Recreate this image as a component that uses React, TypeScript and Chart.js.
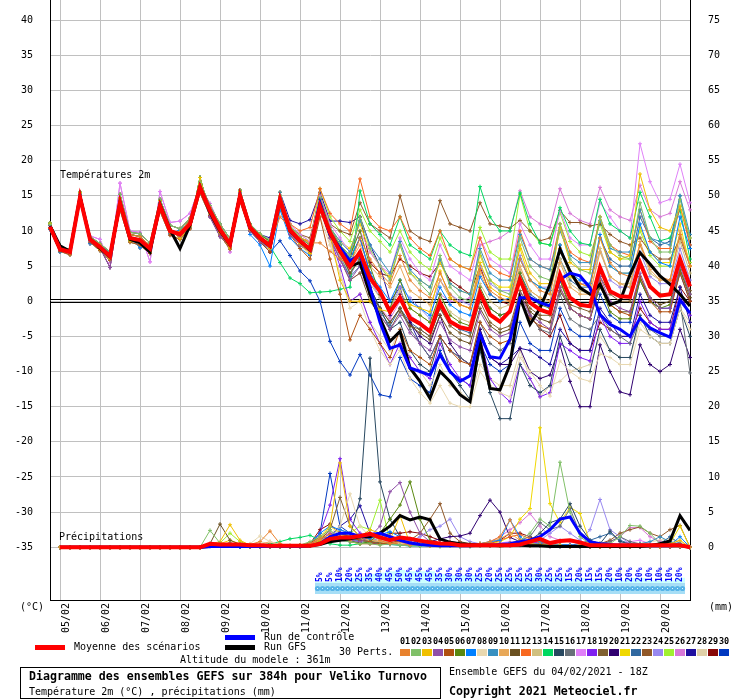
import React, { useEffect, useRef } from "react";
import { Chart, registerables } from "chart.js";

Chart.register(...registerables);

const FONT = '"DejaVu Sans Mono", monospace';

// GEFS run of 04/02/2021 18Z, one step every 6 hours
const leadHours = [
  0, 6, 12, 18, 24, 30, 36, 42, 48, 54, 60, 66, 72, 78, 84, 90, 96, 102, 108, 114,
  120, 126, 132, 138, 144, 150, 156, 162, 168, 174, 180, 186, 192, 198, 204, 210,
  216, 222, 228, 234, 240, 246, 252, 258, 264, 270, 276, 282, 288, 294, 300, 306,
  312, 318, 324, 330, 336, 342, 348, 354, 360, 366, 372, 378, 384,
];
const dayLabels = [
  "05/02", "06/02", "07/02", "08/02", "09/02", "10/02", "11/02", "12/02",
  "13/02", "14/02", "15/02", "16/02", "17/02", "18/02", "19/02", "20/02",
];
const tempTicks = [40, 35, 30, 25, 20, 15, 10, 5, 0, -5, -10, -15, -20, -25, -30, -35];
const rainTicks = [0, 5, 10, 15, 20, 25, 30, 35, 40, 45, 50, 55, 60, 65, 70, 75];

// snow probability, first value at +162h
const snowFrom = 27;
const snowPercent = [
  5, 5, 10, 20, 25, 35, 40, 45, 50, 45, 45, 45, 35, 30, 30, 30, 25, 20, 25, 25,
  25, 25, 30, 25, 25, 15, 20, 15, 15, 20, 10, 20, 20, 10, 10, 10, 20,
];

const memberColors = [
  "#e8822e", "#80c068", "#f0c000", "#9050a8", "#b05010", "#5a8810", "#0080ff", "#e8d8b0",
  "#3890c0", "#e8a858", "#6a5020", "#f86820", "#d0c080", "#00d860", "#284860", "#687078",
  "#e080f8", "#8020f0", "#806030", "#300070", "#f0d800", "#3068a0", "#905828", "#9888f0",
  "#a0f030", "#d878d8", "#2010a0", "#e0d0a8", "#880808", "#0038c0",
];

// first 20 steps, where the members still run close together
const earlyA = [10.9, 7.8, 7.3, 15.3, 9.2, 8.2, 7.0, 15.2, 9.8, 9.6, 8.3, 14.5, 10.8, 10.3, 11.8, 16.9, 13.6, 11.0, 8.9, 15.8];
const earlyB = [10.3, 7.1, 6.6, 14.4, 8.4, 7.2, 5.8, 13.0, 8.4, 8.0, 6.8, 12.8, 9.4, 8.8, 10.3, 15.4, 12.2, 9.4, 7.4, 14.2];
const earlyC = [11.1, 7.9, 6.9, 15.5, 9.0, 7.4, 6.1, 14.7, 8.6, 8.4, 7.0, 14.3, 10.3, 8.9, 10.6, 17.6, 12.5, 9.8, 7.6, 15.6];
const earlyD = [10.4, 7.5, 7.4, 14.6, 8.9, 8.0, 6.6, 13.6, 9.5, 9.2, 7.9, 13.3, 9.8, 9.9, 11.5, 15.9, 13.3, 10.6, 8.5, 14.7];
const earlyF = [10.5, 7.2, 6.8, 15.0, 9.3, 8.8, 5.5, 16.8, 10.0, 9.8, 5.6, 15.6, 11.2, 11.4, 12.5, 16.4, 13.9, 10.8, 7.0, 14.7];
const earlyG = [10.8, 7.6, 7.1, 14.9, 8.6, 7.6, 4.8, 13.9, 8.9, 8.5, 7.8, 13.5, 10.1, 9.0, 10.6, 16.6, 12.0, 9.2, 7.9, 14.8];
const earlyH = [10.2, 7.0, 7.2, 15.2, 8.2, 7.9, 6.9, 14.3, 9.2, 7.6, 8.0, 14.0, 9.6, 10.1, 11.3, 15.7, 12.7, 10.4, 8.6, 15.4];
const earlyMean = [10.6, 7.4, 7.0, 14.8, 8.8, 7.7, 6.4, 14.0, 9.0, 8.7, 7.5, 13.6, 10.0, 9.5, 11.0, 16.2, 12.9, 10.2, 8.1, 15.0];
const earlyGfs = [10.7, 7.9, 7.1, 14.9, 8.9, 7.5, 6.3, 14.1, 8.8, 8.3, 7.0, 13.8, 10.2, 7.5, 10.8, 16.3, 12.6, 10.0, 8.0, 15.1];

// 2m temperature (°C)
const t01 = [...earlyD, 10.8, 9.3, 8.2, 12.0, 10.5, 9.0, 8.3, 8.3, 7.1, 6.0, 5.2, 9.0, 6.0, 4.0, 2.5, 6.5, 3.0, 1.5, 0.5, 4.0, 1.0, -0.5, -1.0, 4.5, 1.5, 0.5, 0.0, 6.0, 3.0, 1.5, 1.0, 7.5, 4.0, 2.5, 2.0, 9.0, 5.5, 4.0, 3.5, 8.0, 5.0, 3.5, 3.0, 9.5, 5.0];
const t02 = [...earlyA, 11.0, 9.6, 8.7, 15.0, 10.8, 9.2, 8.0, 14.8, 10.5, 8.0, 6.5, 12.0, 7.5, 5.0, 3.0, 8.0, 4.0, 2.5, 1.0, 6.5, 2.0, 0.5, 0.0, 7.0, 3.0, 1.5, 1.0, 9.0, 5.0, 3.5, 3.0, 11.0, 6.0, 4.5, 4.0, 12.0, 8.0, 6.5, 6.0, 14.0, 9.0, 7.0, 7.0, 14.5, 9.0];
const t03 = [...earlyC, 10.2, 8.8, 7.5, 15.0, 9.9, 8.2, 6.8, 14.0, 9.5, 3.0, 0.0, 0.0, 0.0, -1.2, -1.5, 0.5, -0.5, -1.0, -1.5, 4.3, 0.5, -0.5, -1.0, 5.5, 2.0, 1.0, 0.5, 8.0, 4.0, 2.5, 2.5, 10.5, 5.5, 4.5, 4.5, 12.0, 7.0, 6.0, 6.5, 18.1, 13.0, 10.5, 10.0, 13.5, 9.0];
const t04 = [...earlyG, 10.0, 8.5, 7.5, 14.0, 9.5, 8.0, 7.0, 13.0, 9.0, 6.0, 3.0, 5.0, 1.0, -2.0, -4.0, -2.0, -4.5, -6.0, -7.0, -3.0, -5.5, -6.5, -7.0, -1.5, -4.0, -5.0, -4.5, 1.0, -2.0, -3.0, -4.0, 2.0, -1.0, -2.0, -2.5, 3.5, 0.0, -1.0, -1.5, 4.0, 0.5, -1.0, -1.0, 5.0, 1.0];
const t05 = [...earlyB, 10.0, 8.5, 7.0, 13.5, 9.5, 7.5, 6.0, 12.0, 6.0, 1.0, -5.5, -2.0, -4.0, -6.0, -8.0, -4.0, -7.0, -8.0, -9.0, -5.0, -7.0, -8.5, -9.0, -3.0, -5.0, -6.0, -5.5, 0.0, -2.5, -3.5, -4.0, 2.0, -1.0, -2.0, -2.5, 3.0, -0.5, -1.5, -2.0, 3.5, 0.0, -1.5, -1.5, 4.0, 0.0];
const t06 = [...earlyD, 11.0, 9.5, 8.5, 14.0, 10.5, 9.0, 8.0, 14.5, 10.0, 8.0, 6.5, 10.0, 5.0, 1.0, -1.0, 3.0, -1.0, -2.0, -3.0, 1.0, -2.0, -3.0, -3.5, 2.0, -1.0, -2.0, -1.5, 4.0, 0.5, -0.5, -1.0, 3.0, -1.0, -2.0, -2.5, 2.5, -1.5, -2.5, -2.5, 3.0, 0.0, -1.0, -0.5, 4.5, 1.0];
const t07 = [...earlyH, 9.5, 8.0, 5.0, 13.0, 9.0, 7.5, 6.5, 14.5, 10.0, 8.0, 6.0, 9.0, 4.0, 2.0, 0.0, 3.0, 0.0, -1.0, -2.0, 2.0, -0.5, -1.5, -2.0, 3.5, 1.0, 0.0, 0.5, 6.0, 3.0, 2.0, 1.5, 8.0, 4.0, 3.0, 2.5, 9.5, 5.0, 4.0, 4.0, 11.0, 7.0, 5.5, 5.0, 12.0, 7.5];
const t08 = [...earlyB, 10.0, 8.5, 7.5, 14.0, 9.5, 8.0, 7.0, 13.0, 8.5, 4.0, -1.0, 0.0, -4.0, -7.0, -9.0, -7.0, -11.0, -13.0, -14.5, -12.0, -14.5, -15.0, -15.0, -10.0, -12.0, -13.0, -13.6, -8.0, -10.0, -12.0, -13.5, -8.5, -10.0, -11.0, -11.4, -7.5, -8.0, -9.0, -9.0, -4.0, -5.0, -6.0, -6.0, -1.0, -4.0];
const t09 = [...earlyA, 11.0, 9.5, 8.5, 15.5, 10.5, 9.0, 8.0, 14.0, 10.5, 8.5, 7.0, 11.5, 8.0, 6.0, 4.0, 8.5, 4.5, 3.0, 2.0, 6.0, 2.5, 1.5, 1.0, 7.5, 4.0, 3.0, 3.0, 9.5, 6.0, 5.0, 4.5, 10.0, 6.5, 5.5, 5.5, 11.5, 7.5, 7.0, 7.0, 13.0, 9.0, 8.5, 8.0, 15.0, 9.5];
const t10 = [...earlyD, 10.8, 9.2, 8.0, 14.5, 10.0, 8.5, 7.5, 14.0, 9.5, 7.5, 5.5, 8.0, 5.0, 3.5, 2.0, 5.0, 1.5, 0.5, -0.5, 3.0, 0.5, -0.5, -1.0, 4.0, 1.0, 0.0, 0.0, 5.0, 1.5, 0.5, 0.0, 5.5, 2.0, 1.0, 1.0, 7.0, 3.5, 2.5, 2.0, 8.5, 4.5, 3.0, 3.0, 10.0, 5.0];
const t11 = [...earlyG, 10.0, 8.5, 7.0, 13.5, 9.5, 8.0, 7.0, 14.0, 9.5, 7.0, 4.0, 6.0, 1.0, -1.0, -3.0, -1.0, -3.5, -4.5, -5.5, -2.0, -4.5, -5.5, -6.0, -1.0, -3.5, -4.5, -4.0, 1.0, -1.5, -2.5, -3.0, 1.5, -1.0, -2.0, -2.5, 2.0, -0.5, -1.5, -1.5, 3.5, 0.5, -0.5, 0.0, 4.5, 0.5];
const t12 = [...earlyA, 11.0, 9.5, 8.5, 15.0, 11.0, 10.0, 10.5, 16.0, 12.5, 11.0, 10.0, 17.4, 12.0, 10.5, 10.0, 12.0, 9.0, 7.5, 6.5, 10.0, 6.0, 5.0, 4.5, 9.0, 5.0, 4.0, 3.5, 10.0, 6.0, 5.0, 4.5, 11.0, 7.0, 6.0, 5.5, 12.0, 8.0, 7.0, 6.5, 13.0, 8.5, 7.5, 7.5, 13.5, 8.0];
const t13 = [...earlyH, 10.5, 9.0, 8.0, 14.5, 10.0, 8.5, 7.5, 13.5, 9.0, 6.5, 4.0, 6.0, 2.5, 0.5, -1.0, 1.5, -1.0, -2.0, -3.0, 0.5, -1.5, -2.5, -3.0, 2.5, 0.0, -1.0, -0.5, 4.5, 1.5, 0.5, 0.0, 6.0, 2.5, 1.5, 1.0, 7.5, 3.5, 2.5, 2.5, 8.0, 4.0, 3.0, 3.0, 8.5, 4.0];
const t14 = [...earlyC, 10.0, 9.0, 7.8, 5.5, 3.3, 2.5, 1.2, 1.3, 1.4, 1.7, 2.0, 15.7, 11.0, 9.5, 8.0, 12.0, 8.0, 7.0, 6.0, 10.0, 8.0, 7.0, 6.5, 16.3, 12.0, 10.0, 10.0, 15.4, 11.0, 8.3, 8.0, 13.3, 10.0, 8.3, 8.0, 14.5, 11.0, 10.0, 9.0, 15.5, 12.0, 8.6, 9.0, 13.0, 6.0];
const t15 = [...earlyB, 10.0, 8.5, 7.5, 14.0, 9.5, 8.0, 7.0, 14.0, 10.0, 7.0, 4.0, 6.0, 2.0, -1.0, -4.0, -3.0, -7.0, -9.0, -10.0, -5.0, -10.0, -12.0, -14.0, -7.0, -13.0, -16.7, -16.7, -9.0, -12.0, -13.0, -12.0, -5.0, -9.0, -10.0, -10.0, -4.0, -7.0, -8.0, -8.0, -2.0, -5.0, -6.0, -6.0, -1.0, -5.0];
const t16 = [...earlyD, 10.5, 9.0, 8.0, 14.5, 10.0, 8.5, 7.5, 13.5, 9.5, 7.0, 5.0, 7.0, 2.0, -1.0, -3.0, -1.0, -4.0, -6.0, -8.0, -5.0, -7.0, -8.0, -9.0, -3.0, -6.0, -7.0, -6.0, 0.0, -2.0, -4.0, -4.5, 1.0, -2.5, -3.5, -4.0, -2.0, -4.0, -5.0, -6.0, -2.5, -4.0, -5.0, -5.0, 0.0, -10.2];
const t17 = [...earlyF, 10.5, 9.0, 8.0, 15.0, 11.0, 9.5, 8.5, 15.0, 11.0, 9.0, 7.0, 10.0, 7.0, 5.0, 4.0, 9.0, 6.0, 4.0, 3.0, 8.0, 5.0, 4.0, 3.0, 9.0, 6.0, 5.0, 4.0, 11.0, 8.0, 6.0, 6.0, 13.0, 9.0, 8.0, 8.0, 14.0, 12.0, 10.0, 9.0, 22.4, 17.0, 14.0, 14.5, 19.5, 14.0];
const t18 = [...earlyG, 10.0, 8.5, 7.0, 13.5, 9.5, 8.0, 7.0, 13.5, 9.0, 5.0, 0.0, 1.0, -3.0, -6.0, -9.0, -6.0, -8.0, -10.0, -11.0, -6.0, -9.0, -11.0, -12.0, -5.0, -11.0, -13.0, -14.3, -9.0, -11.0, -13.6, -13.0, -6.0, -7.0, -8.0, -8.5, -2.0, -5.0, -6.0, -6.0, 0.0, -3.0, -4.0, -4.0, 1.0, -2.0];
const t19 = [...earlyH, 10.5, 9.0, 7.5, 14.0, 10.0, 8.5, 7.5, 14.5, 9.0, 6.0, 3.0, 4.0, 0.0, -2.0, -4.0, -1.5, -3.5, -4.0, -5.0, -1.0, -3.5, -4.5, -5.0, 0.0, -3.0, -4.0, -3.5, 1.5, -1.0, -2.0, -2.0, 3.0, -0.5, -1.0, -1.5, 3.5, 1.0, 0.0, 0.0, 5.0, 2.0, 1.0, 1.0, 5.5, 1.5];
const t20 = [...earlyC, 10.5, 9.0, 8.0, 15.0, 10.0, 8.5, 7.5, 15.0, 10.0, 8.0, 6.0, 9.0, 4.0, 1.0, -2.0, 1.0, -3.0, -5.0, -6.0, -2.0, -6.0, -8.0, -9.0, -4.0, -8.0, -9.0, -9.0, -6.7, -10.0, -11.0, -10.5, -6.2, -11.4, -15.0, -15.0, -6.2, -10.0, -12.9, -13.3, -6.2, -9.0, -10.0, -9.0, -4.0, -8.0];
const t21 = [...earlyA, 11.0, 9.5, 8.5, 15.5, 10.5, 9.0, 8.5, 15.0, 10.5, 8.5, 7.5, 11.0, 7.0, 5.0, 3.5, 8.0, 4.0, 3.0, 2.0, 5.5, 2.5, 1.5, 1.0, 6.5, 3.0, 2.0, 2.0, 7.5, 3.0, 2.0, 1.5, 8.0, 3.5, 2.5, 2.0, 9.0, 5.0, 4.0, 4.0, 10.5, 7.0, 5.5, 5.5, 11.0, 5.0];
const t22 = [...earlyD, 10.5, 9.0, 7.5, 14.5, 10.0, 8.5, 7.0, 14.0, 9.5, 6.5, 3.5, 5.0, 1.0, -1.5, -3.5, -1.0, -3.0, -4.0, -5.0, -1.0, -3.0, -4.0, -4.5, 1.0, -1.0, -2.0, -1.5, 4.0, 1.0, 0.0, -0.5, 6.0, 3.0, 2.0, 2.0, 9.0, 6.0, 5.0, 5.0, 12.0, 9.0, 8.0, 8.5, 15.0, 8.0];
const t23 = [...earlyA, 11.0, 9.5, 8.5, 15.0, 10.5, 9.5, 9.0, 15.0, 11.0, 10.0, 9.5, 14.0, 11.0, 10.0, 9.0, 15.0, 10.0, 9.0, 8.5, 14.3, 11.0, 10.5, 10.0, 14.0, 11.0, 10.7, 10.4, 11.5, 10.0, 8.6, 9.0, 12.9, 11.2, 11.2, 10.7, 11.0, 9.5, 8.5, 8.0, 9.0, 7.0, 6.0, 6.0, 9.0, 5.0];
const t24 = [...earlyH, 10.5, 9.0, 8.0, 14.5, 10.0, 8.5, 7.5, 14.0, 9.0, 6.0, 3.5, 6.5, 3.0, 0.5, -1.0, 2.0, 0.5, -1.0, -2.5, 3.0, 1.0, 0.0, -0.5, 5.0, 2.5, 1.5, 1.5, 6.5, 3.0, 2.0, 2.0, 8.0, 3.5, 2.5, 2.5, 7.5, 3.0, 2.0, 2.0, 7.0, 3.5, 2.5, 2.5, 7.5, 3.0];
const t25 = [...earlyC, 10.5, 9.5, 8.5, 15.0, 10.5, 9.5, 8.5, 16.0, 12.0, 10.0, 8.5, 13.0, 10.0, 8.5, 7.0, 10.0, 7.0, 5.5, 4.5, 9.0, 6.0, 5.0, 4.5, 10.5, 7.0, 6.0, 6.0, 15.2, 10.0, 8.3, 8.0, 12.6, 8.5, 7.0, 6.5, 11.0, 7.0, 6.0, 6.0, 10.0, 6.5, 5.0, 5.0, 9.5, 5.5];
const t26 = [...earlyF, 10.5, 9.0, 7.5, 14.5, 10.0, 8.5, 7.5, 14.0, 9.0, 6.0, 3.0, 4.0, 1.0, -1.0, -2.5, 0.0, -2.0, -3.0, -4.0, 1.0, 0.0, 0.0, 0.5, 8.0, 8.5, 9.0, 10.0, 15.7, 12.0, 11.0, 10.5, 16.0, 12.5, 11.5, 11.0, 16.2, 13.0, 12.0, 11.5, 16.5, 13.0, 12.0, 12.5, 17.0, 13.0];
const t27 = [...earlyC, 10.5, 9.5, 9.0, 15.5, 11.5, 11.0, 11.6, 15.5, 11.4, 11.4, 11.2, 12.0, 8.0, 5.0, 0.0, 2.0, -3.0, -6.0, -8.0, -5.0, -7.0, -8.0, -9.0, -4.0, -8.0, -9.0, -8.0, -6.7, -7.0, -8.0, -9.0, -4.0, -6.0, -7.0, -7.0, -1.0, -3.0, -5.0, -5.0, 1.0, -2.0, -3.0, -3.0, 2.0, -3.0];
const t28 = [...earlyB, 10.0, 8.5, 7.5, 14.0, 9.5, 8.0, 6.5, 12.0, 8.0, 4.0, 0.0, 1.0, -3.0, -5.0, -7.0, -4.0, -8.0, -10.0, -12.0, -9.0, -12.0, -13.0, -14.0, -9.0, -11.0, -12.0, -12.0, -7.0, -11.0, -13.6, -12.0, -11.4, -10.0, -9.5, -9.0, -5.0, -7.0, -8.0, -8.0, -3.0, -5.0, -6.0, -6.0, -1.0, -3.0];
const t29 = [...earlyD, 10.5, 9.0, 8.0, 14.5, 10.0, 9.0, 8.5, 14.5, 10.5, 8.0, 6.0, 12.0, 5.5, 4.0, 3.5, 6.0, 5.0, 4.0, 3.5, 5.5, 3.0, 2.0, 1.0, 5.0, 1.0, 0.0, -0.5, 3.0, -2.0, -4.0, -5.0, -2.0, -6.0, -7.0, -7.0, -3.0, -4.0, -5.0, -5.0, -1.0, -3.0, -4.0, -4.0, 2.0, 0.0];
const t30 = [...earlyH, 10.0, 8.5, 7.0, 8.6, 6.5, 4.3, 2.9, 0.0, -5.7, -8.6, -10.5, -7.6, -10.5, -13.3, -13.6, -8.0, -11.0, -12.0, -13.0, -7.0, -10.0, -11.0, -12.0, -6.0, -9.0, -10.0, -9.0, -3.0, -6.0, -7.0, -7.0, -1.0, -4.0, -5.0, -5.0, 1.0, -2.0, -3.0, -3.0, 3.0, 0.0, -1.0, -1.0, 4.0, 0.0];
const tempControl = [...earlyMean, 10.5, 9.0, 7.9, 14.5, 10.1, 8.6, 7.4, 14.0, 9.5, 7.6, 5.7, 6.7, 2.0, -3.0, -6.7, -6.2, -9.5, -10.0, -10.5, -7.6, -10.0, -11.4, -10.6, -4.7, -7.9, -8.1, -5.4, 0.5, 0.5, -0.2, -0.7, 3.1, 4.0, 3.6, 1.9, -1.9, -3.3, -4.0, -5.0, -2.4, -3.8, -4.5, -5.1, 0.2, -1.7];
const tempGfs = [...earlyGfs, 10.4, 8.9, 7.8, 14.4, 10.0, 8.5, 7.3, 13.8, 9.5, 7.5, 5.0, 5.5, 1.0, -2.4, -5.7, -4.3, -9.5, -11.4, -13.8, -10.0, -11.4, -13.3, -14.3, -5.7, -12.4, -12.6, -9.0, 0.5, -3.3, -1.0, 2.4, 7.4, 4.3, 1.9, 1.0, 2.4, -0.5, 0.0, 3.8, 6.9, 5.3, 3.6, 2.4, 1.0, -0.7];
const tempMean = [...earlyMean, 10.5, 9.0, 7.9, 14.5, 10.1, 8.6, 7.4, 13.5, 9.8, 7.1, 4.9, 7.0, 3.3, 1.4, -1.5, 0.5, -2.4, -3.2, -4.3, -0.2, -2.9, -3.7, -4.0, 1.2, -1.9, -2.9, -1.4, 3.1, -0.2, -1.2, -1.7, 3.8, 0.5, -0.5, -0.7, 4.8, 1.4, 0.7, 0.6, 5.5, 2.1, 0.8, 1.0, 6.0, 2.1];

// 6-hourly precipitation (mm); nothing falls before +96h
const dry = [null, 0, 0, 0, 0, 0, 0, 0, 0, 0, 0, 0, 0, 0, 0, 0];
const r01 = [...dry, 0.2, 0.4, 0.3, 0.2, 0.4, 0.8, 2.3, 0.5, 0.2, 0.3, 0.5, 1.2, 1.8, 1.5, 1.0, 1.5, 2.0, 1.0, 0.5, 0.8, 0.3, 0.5, 0.3, 0.2, 0.4, 0.5, 0.3, 0.5, 0.8, 1.5, 3.9, 1.0, 0.5, 0.3, 0.2, 0.2, 0.1, 0.3, 0.2, 0.1, 0.1, 0.1, 0.2, 0.3, 0.1, 0.1, 0.1, 0.2, 0];
const r02 = [...dry, 2.4, 0.6, 0.3, 0.2, 0.1, 0.1, 0.2, 0.1, 0.2, 0.3, 0.8, 1.5, 2.5, 1.0, 0.8, 0.5, 0.5, 0.3, 0.5, 0.3, 0.2, 0.2, 0.3, 0.5, 0.3, 0.2, 0.5, 0.3, 0.3, 0.2, 0.5, 1.0, 2.0, 4.0, 3.0, 12.1, 5.0, 1.5, 0.5, 0.3, 0.5, 1.5, 3.1, 3.0, 2.0, 0.5, 0.3, 0.2, 0];
const r03 = [...dry, 0.5, 0.8, 3.2, 1.0, 0.3, 0.2, 0.1, 0.1, 0.1, 0.2, 0.3, 1.0, 3.0, 12.0, 3.0, 1.5, 2.5, 2.0, 1.0, 4.5, 0.5, 0.3, 0.2, 0.2, 0.3, 0.2, 0.3, 0.5, 0.4, 0.3, 0.5, 0.8, 0.5, 0.4, 0.3, 0.3, 0.2, 0.3, 0.2, 0.1, 0.1, 0.2, 0.1, 0.2, 0.1, 0.1, 0.5, 1.0, 0];
const r04 = [...dry, 0.2, 0.3, 0.5, 0.2, 0.1, 0.1, 0.1, 0.1, 0.1, 0.2, 0.5, 1.0, 2.0, 1.5, 1.0, 0.8, 1.5, 3.0, 7.9, 9.2, 5.0, 2.0, 0.8, 0.5, 0.3, 0.5, 0.3, 0.2, 0.2, 0.3, 0.2, 0.5, 0.3, 0.2, 0.1, 0.1, 0.2, 0.1, 0.1, 0.1, 0.1, 0.1, 0.1, 0.1, 0.1, 0.2, 0.1, 0.1, 0];
const r05 = [...dry, 0.3, 0.5, 0.3, 0.2, 0.1, 0.2, 0.3, 0.2, 0.1, 0.3, 0.6, 1.5, 1.2, 2.0, 1.5, 1.0, 0.8, 0.5, 0.6, 1.0, 0.5, 0.4, 0.3, 0.5, 0.3, 0.2, 0.2, 0.3, 0.2, 0.3, 0.5, 0.8, 0.4, 0.3, 0.2, 0.2, 0.1, 0.2, 0.1, 0.1, 0.1, 0.1, 0.1, 0.1, 0.2, 0.1, 0.1, 0.1, 0];
const r06 = [...dry, 0.2, 0.4, 0.6, 0.3, 0.1, 0.1, 0.1, 0.1, 0.1, 0.1, 0.3, 0.8, 1.0, 1.2, 1.0, 0.5, 0.8, 2.0, 4.0, 6.0, 9.3, 4.0, 1.0, 0.5, 0.3, 0.2, 0.2, 0.3, 0.2, 0.3, 0.3, 0.5, 0.3, 0.2, 0.2, 0.2, 0.1, 0.1, 0.1, 0.1, 0.2, 0.1, 0.1, 0.1, 0.1, 0.1, 0.1, 0.1, 0];
const r07 = [...dry, 0.2, 0.3, 0.2, 0.1, 0.1, 0.2, 0.1, 0.1, 0.1, 0.2, 0.5, 2.0, 3.0, 2.5, 2.0, 1.5, 1.2, 1.8, 2.2, 1.5, 1.0, 0.8, 0.5, 0.3, 0.3, 0.2, 0.3, 0.5, 0.8, 1.0, 3.9, 1.5, 0.5, 0.5, 0.3, 0.4, 0.3, 0.3, 0.2, 0.1, 0.1, 0.1, 0.1, 0.1, 0.1, 0.2, 0.3, 1.5, 0];
const r08 = [...dry, 0.3, 0.5, 0.4, 0.3, 0.5, 1.6, 0.8, 0.4, 0.3, 0.2, 0.5, 1.0, 2.0, 3.0, 7.6, 3.0, 1.5, 1.0, 0.8, 0.6, 0.5, 0.4, 0.3, 0.3, 0.2, 0.3, 0.3, 0.2, 0.2, 0.3, 0.4, 0.5, 0.4, 0.3, 0.2, 0.2, 0.2, 0.3, 0.1, 0.1, 0.1, 0.2, 0.3, 0.2, 0.1, 0.1, 0.2, 0.1, 0];
const r09 = [...dry, 0.1, 0.2, 0.2, 0.1, 0.1, 0.1, 0.1, 0.1, 0.1, 0.1, 0.3, 0.8, 1.2, 1.0, 0.8, 1.0, 0.8, 0.5, 0.4, 0.3, 0.2, 0.2, 0.2, 0.3, 0.2, 0.1, 0.2, 0.3, 0.3, 0.4, 0.5, 0.6, 1.0, 0.8, 0.5, 0.4, 0.3, 0.2, 0.1, 0.1, 0.2, 0.3, 0.4, 0.5, 0.8, 1.5, 0.8, 0.5, 0];
const r10 = [...dry, 0.3, 0.6, 0.5, 0.3, 0.2, 0.4, 0.8, 0.4, 0.2, 0.2, 0.4, 1.0, 1.5, 2.0, 1.5, 1.2, 1.0, 0.8, 0.5, 0.4, 0.3, 0.3, 0.2, 0.3, 0.2, 0.2, 0.3, 0.5, 0.8, 1.2, 2.0, 1.0, 0.5, 0.4, 0.3, 0.2, 0.2, 0.3, 0.2, 0.1, 0.1, 0.2, 0.2, 0.3, 0.2, 0.1, 0.1, 0.2, 0];
const r11 = [...dry, 0.5, 3.3, 1.0, 0.4, 0.2, 0.1, 0.1, 0.1, 0.1, 0.2, 0.4, 1.0, 1.5, 2.0, 1.5, 1.0, 0.8, 0.6, 0.5, 0.4, 0.3, 0.3, 0.2, 0.2, 0.3, 0.2, 0.2, 0.3, 0.3, 0.2, 0.4, 0.3, 0.2, 0.2, 0.1, 0.1, 0.1, 0.2, 0.1, 0.1, 0.1, 0.1, 0.1, 0.1, 0.1, 0.2, 0.1, 0.1, 0];
const r12 = [...dry, 0.2, 0.3, 0.3, 0.2, 0.1, 0.1, 0.2, 0.1, 0.2, 0.2, 0.3, 0.6, 0.8, 1.0, 0.8, 0.5, 0.5, 0.4, 0.5, 0.6, 0.5, 0.4, 0.3, 0.3, 0.2, 0.2, 0.3, 0.4, 0.6, 1.0, 1.5, 1.8, 1.2, 0.6, 0.4, 0.3, 0.2, 0.2, 0.2, 0.1, 0.1, 0.2, 0.2, 0.2, 0.1, 0.1, 0.1, 0.1, 0];
const r13 = [...dry, 0.4, 0.5, 0.4, 0.2, 0.2, 0.3, 0.3, 0.2, 0.2, 0.2, 0.4, 0.8, 1.5, 2.5, 2.0, 1.5, 1.0, 0.8, 0.6, 0.5, 0.4, 0.3, 0.3, 0.2, 0.3, 0.2, 0.2, 0.3, 0.3, 0.4, 0.5, 0.8, 0.5, 0.4, 0.3, 0.3, 0.2, 0.2, 0.1, 0.1, 0.1, 0.1, 0.2, 0.3, 0.2, 0.1, 0.1, 0.1, 0];
const r14 = [...dry, 0.2, 0.4, 0.3, 0.2, 0.2, 0.3, 0.5, 0.8, 1.2, 1.4, 1.7, 1.0, 0.5, 0.3, 0.3, 0.5, 0.8, 0.6, 0.4, 0.3, 0.2, 0.2, 0.2, 0.1, 0.2, 0.1, 0.1, 0.2, 0.2, 0.2, 0.3, 0.4, 0.3, 0.2, 0.2, 0.1, 0.1, 0.1, 0.1, 0.1, 0.1, 0.1, 0.1, 0.1, 0.1, 0.1, 0.1, 0.1, 0];
const r15 = [...dry, 0.2, 0.3, 0.2, 0.1, 0.1, 0.2, 0.1, 0.1, 0.1, 0.2, 0.3, 0.8, 1.5, 2.0, 1.5, 6.9, 26.9, 9.3, 4.0, 1.5, 1.0, 0.8, 0.5, 0.4, 0.3, 0.3, 0.2, 0.3, 0.3, 0.4, 0.5, 0.6, 1.0, 2.0, 3.5, 4.0, 6.2, 3.0, 1.0, 0.5, 2.3, 0.8, 0.5, 0.3, 0.2, 0.2, 0.3, 0.2, 0];
const r16 = [...dry, 0.2, 0.3, 0.2, 0.2, 0.1, 0.1, 0.1, 0.1, 0.1, 0.2, 0.4, 1.0, 1.4, 1.5, 1.2, 1.0, 0.8, 0.6, 0.5, 0.4, 0.3, 0.3, 0.2, 0.3, 0.2, 0.2, 0.3, 0.3, 0.3, 0.4, 0.6, 1.0, 1.5, 3.5, 2.5, 3.0, 5.5, 2.0, 0.8, 0.5, 0.8, 1.5, 0.8, 0.5, 0.3, 0.2, 0.2, 0.3, 0];
const r17 = [...dry, 0.2, 0.4, 0.3, 0.2, 0.1, 0.1, 0.1, 0.1, 0.1, 0.1, 0.3, 0.8, 1.0, 1.5, 1.5, 1.2, 2.0, 1.5, 1.0, 0.5, 0.4, 0.3, 0.2, 0.2, 0.2, 0.1, 0.2, 0.3, 0.4, 0.6, 0.8, 0.6, 0.5, 0.4, 0.3, 0.2, 0.2, 0.3, 0.2, 0.1, 0.2, 0.5, 0.8, 1.0, 0.5, 0.3, 0.2, 0.2, 0];
const r18 = [...dry, 0.2, 0.3, 0.2, 0.1, 0.1, 0.1, 0.1, 0.1, 0.1, 0.2, 0.4, 2.0, 6.0, 12.6, 4.0, 2.0, 1.5, 2.0, 1.5, 1.0, 0.8, 0.5, 0.4, 0.3, 0.3, 0.2, 0.3, 0.3, 0.3, 0.4, 0.5, 0.6, 0.8, 0.6, 0.4, 0.3, 0.3, 0.2, 0.2, 0.1, 0.1, 0.1, 0.1, 0.1, 0.1, 0.1, 0.1, 0.1, 0];
const r19 = [...dry, 0.3, 0.4, 0.3, 0.2, 0.1, 0.1, 0.1, 0.1, 0.2, 0.2, 0.4, 1.0, 2.5, 7.1, 3.0, 1.5, 1.0, 0.8, 0.6, 0.5, 0.4, 0.3, 0.3, 0.2, 0.2, 0.2, 0.3, 0.3, 0.3, 0.4, 0.5, 0.6, 0.5, 0.3, 0.2, 0.2, 0.2, 0.2, 0.1, 0.1, 0.1, 0.2, 0.3, 0.4, 0.5, 0.5, 0.6, 0.5, 0];
const r20 = [...dry, 0.2, 0.2, 0.2, 0.1, 0.1, 0.1, 0.1, 0.1, 0.1, 0.1, 0.2, 0.5, 0.8, 1.0, 0.8, 0.6, 0.5, 0.6, 0.8, 1.0, 1.2, 0.5, 0.8, 1.2, 1.5, 1.6, 2.0, 4.5, 6.7, 5.0, 1.4, 0.8, 0.5, 0.4, 0.3, 0.3, 0.2, 0.2, 0.2, 0.1, 0.1, 0.1, 0.1, 0.1, 0.1, 0.1, 0.1, 0.1, 0];
const r21 = [...dry, 0.3, 0.5, 1.0, 0.5, 0.2, 0.1, 0.1, 0.1, 0.2, 0.3, 0.5, 1.5, 3.0, 2.0, 1.5, 1.0, 0.8, 2.0, 1.5, 1.0, 0.5, 0.4, 0.3, 0.3, 0.2, 0.2, 0.3, 0.4, 0.5, 0.8, 1.5, 4.0, 5.5, 17.0, 6.2, 3.5, 5.7, 4.8, 0.7, 0.4, 0.3, 0.2, 0.2, 0.2, 0.3, 0.3, 0.5, 3.0, 0];
const r22 = [...dry, 0.2, 0.2, 0.2, 0.1, 0.1, 0.1, 0.1, 0.1, 0.1, 0.2, 0.3, 0.8, 1.2, 1.5, 1.2, 1.0, 0.8, 0.6, 0.5, 0.4, 0.3, 0.3, 0.2, 0.2, 0.2, 0.2, 0.2, 0.3, 0.3, 0.4, 0.5, 0.6, 0.5, 0.4, 0.3, 0.3, 0.3, 0.5, 1.0, 1.5, 2.0, 1.0, 0.5, 0.4, 0.3, 0.5, 1.5, 0.5, 0];
const r23 = [...dry, 0.2, 0.3, 0.2, 0.1, 0.1, 0.1, 0.1, 0.1, 0.1, 0.1, 0.2, 0.5, 0.8, 1.0, 1.0, 1.2, 1.5, 1.0, 0.8, 0.6, 1.0, 2.0, 4.0, 6.2, 2.0, 0.8, 0.5, 0.4, 0.3, 0.3, 0.4, 0.5, 0.4, 0.3, 0.2, 0.2, 0.2, 0.2, 0.3, 0.5, 1.0, 2.0, 2.5, 2.9, 2.0, 1.5, 2.5, 3.1, 0];
const r24 = [...dry, 0.2, 0.3, 0.2, 0.1, 0.1, 0.1, 0.1, 0.1, 0.1, 0.2, 0.3, 0.6, 1.0, 1.2, 1.0, 0.8, 1.0, 1.2, 0.8, 0.6, 0.8, 1.5, 2.5, 3.0, 4.0, 1.5, 0.8, 0.5, 0.4, 0.3, 0.4, 0.5, 0.6, 1.0, 2.0, 3.0, 2.0, 1.0, 2.5, 6.8, 2.5, 1.5, 0.5, 0.3, 0.2, 0.2, 0.2, 0.1, 0];
const r25 = [...dry, 0.3, 0.6, 2.0, 0.8, 0.3, 0.2, 0.1, 0.1, 0.1, 0.2, 0.3, 0.6, 1.0, 1.5, 2.0, 3.0, 2.5, 6.7, 1.0, 0.6, 0.4, 0.3, 0.2, 0.2, 0.2, 0.2, 0.2, 0.3, 0.3, 0.3, 0.4, 0.5, 0.4, 0.3, 0.2, 0.2, 0.2, 0.1, 0.1, 0.1, 0.1, 0.1, 0.1, 0.1, 0.1, 0.1, 0.1, 0.1, 0];
const r26 = [...dry, 0.2, 0.3, 0.2, 0.1, 0.1, 0.1, 0.1, 0.1, 0.1, 0.2, 0.3, 1.5, 2.0, 1.5, 1.2, 1.5, 1.0, 0.8, 0.6, 0.5, 0.4, 0.3, 0.3, 0.2, 0.2, 0.2, 0.3, 0.5, 0.8, 1.5, 2.5, 3.5, 4.8, 3.0, 1.5, 1.0, 0.8, 0.5, 0.4, 0.5, 0.8, 1.5, 2.8, 2.8, 1.5, 0.8, 0.5, 0.3, 0];
const r27 = [...dry, 0.2, 0.2, 0.2, 0.1, 0.1, 0.1, 0.1, 0.1, 0.1, 0.2, 0.4, 0.8, 1.5, 3.0, 4.0, 5.9, 2.0, 1.5, 1.0, 0.8, 0.6, 0.5, 0.4, 0.3, 0.3, 0.2, 0.3, 0.3, 0.3, 0.3, 0.4, 0.5, 0.4, 0.3, 0.2, 0.2, 0.2, 0.1, 0.1, 0.1, 0.1, 0.1, 0.1, 0.1, 0.1, 0.1, 0.1, 0.1, 0];
const r28 = [...dry, 0.3, 0.4, 0.3, 0.2, 0.2, 0.8, 0.5, 0.3, 0.2, 0.2, 0.4, 1.0, 2.0, 2.5, 2.0, 1.5, 1.2, 1.0, 0.8, 0.6, 0.5, 0.4, 0.3, 0.3, 0.2, 0.2, 0.3, 0.3, 0.3, 0.3, 0.4, 0.5, 0.4, 0.3, 0.2, 0.2, 0.2, 0.2, 0.1, 0.1, 0.2, 0.3, 0.4, 0.5, 0.8, 1.0, 1.2, 0.8, 0];
const r29 = [...dry, 0.2, 0.3, 0.2, 0.1, 0.1, 0.1, 0.1, 0.1, 0.1, 0.2, 0.5, 2.5, 3.3, 2.0, 1.5, 1.2, 1.0, 1.5, 2.0, 2.0, 2.2, 2.0, 1.5, 1.0, 0.8, 0.6, 0.5, 0.5, 0.5, 1.0, 2.0, 2.0, 1.5, 0.8, 0.4, 0.3, 0.2, 0.2, 0.1, 0.1, 0.1, 0.1, 0.1, 0.1, 0.1, 0.1, 0.1, 0.1, 0];
const r30 = [...dry, 0.2, 0.2, 0.2, 0.1, 0.1, 0.1, 0.1, 0.1, 0.1, 0.2, 0.5, 2.0, 10.5, 3.0, 2.0, 1.5, 1.8, 1.2, 1.0, 0.8, 0.6, 0.5, 0.4, 0.3, 0.3, 0.2, 0.3, 0.3, 0.3, 0.3, 0.4, 0.5, 0.4, 0.3, 0.2, 0.2, 0.2, 0.2, 0.1, 0.1, 0.1, 0.1, 0.1, 0.1, 0.1, 0.1, 0.1, 0.1, 0];
const rainControl = [...dry, 0.1, 0.1, 0.1, 0.1, 0.1, 0.1, 0.1, 0.1, 0.1, 0.1, 0.2, 0.5, 1.5, 2.0, 2.0, 1.5, 1.8, 2.0, 1.5, 1.0, 0.6, 0.4, 0.3, 0.2, 0.2, 0.2, 0.2, 0.3, 0.3, 0.4, 0.5, 0.8, 1.0, 1.5, 2.5, 4.0, 4.3, 2.0, 0.8, 0.5, 0.4, 0.3, 0.3, 0.3, 0.2, 0.2, 0.2, 0.3, 0];
const rainGfs = [...dry, 0.1, 0.1, 0.1, 0.1, 0.1, 0.1, 0.1, 0.1, 0.1, 0.1, 0.2, 0.4, 0.8, 1.0, 1.2, 1.5, 1.5, 2.0, 3.0, 4.5, 3.9, 4.3, 3.9, 1.2, 0.7, 0.5, 0.4, 0.3, 0.3, 0.2, 0.3, 0.3, 0.2, 0.2, 0.1, 0.1, 0.1, 0.1, 0.1, 0.1, 0.1, 0.1, 0.1, 0.1, 0.2, 0.5, 0.9, 4.5, 2.4];
const rainMean = [...dry, 0.5, 0.4, 0.4, 0.4, 0.3, 0.3, 0.2, 0.2, 0.2, 0.2, 0.2, 0.5, 1.2, 1.4, 1.4, 1.6, 1.9, 1.4, 1.0, 1.4, 1.2, 0.95, 0.7, 0.55, 0.5, 0.3, 0.3, 0.3, 0.3, 0.3, 0.3, 0.4, 0.8, 1.2, 0.6, 0.9, 1.0, 0.7, 0.3, 0.3, 0.3, 0.3, 0.3, 0.3, 0.3, 0.3, 0.3, 0.3, 0];

const memberTemps = [t01, t02, t03, t04, t05, t06, t07, t08, t09, t10, t11, t12, t13, t14, t15, t16, t17, t18, t19, t20, t21, t22, t23, t24, t25, t26, t27, t28, t29, t30];
const memberRain = [r01, r02, r03, r04, r05, r06, r07, r08, r09, r10, r11, r12, r13, r14, r15, r16, r17, r18, r19, r20, r21, r22, r23, r24, r25, r26, r27, r28, r29, r30];

const isMidnight = (i: number) => (leadHours[i] + 18) % 24 === 0;
const dayOf = (i: number) => dayLabels[(leadHours[i] + 18) / 24 - 1];

const noPadding = (s: any) => {
  s.paddingTop = 0;
  s.paddingBottom = 0;
  s.paddingLeft = 0;
  s.paddingRight = 0;
};

const extras = {
  id: "extras",
  beforeDatasetsDraw(chart: any) {
    const { ctx, chartArea, scales } = chart;
    const x = scales.x;
    ctx.save();
    // double line at 0 °C
    const y0 = Math.round(scales.y.getPixelForValue(0));
    ctx.strokeStyle = "#000";
    ctx.lineWidth = 1;
    ctx.beginPath();
    ctx.moveTo(chartArea.left, y0 - 1.5);
    ctx.lineTo(chartArea.right, y0 - 1.5);
    ctx.moveTo(chartArea.left, y0 + 1.5);
    ctx.lineTo(chartArea.right, y0 + 1.5);
    ctx.stroke();

    // snow probability strip
    snowPercent.forEach((p, k) => {
      const px = x.getPixelForValue(snowFrom + k);
      const h = p * 0.26;
      ctx.fillStyle = "#ccffff";
      ctx.fillRect(px - 5, 583 - h, 10, h);
      ctx.fillStyle = "#a6def6";
      ctx.fillRect(px - 5, 583, 10, 11);
      [-2.5, 2.5].forEach((dx) => {
        ctx.fillStyle = "#55b4e8";
        ctx.beginPath();
        ctx.arc(px + dx, 588.5, 2.6, 0, Math.PI * 2);
        ctx.fill();
        ctx.fillStyle = "#e6f7ff";
        ctx.fillRect(px + dx - 0.5, 588, 1, 1);
      });
    });
    ctx.fillStyle = "#0000ff";
    ctx.font = `bold 8px ${FONT}`;
    ctx.textAlign = "left";
    ctx.textBaseline = "middle";
    snowPercent.forEach((p, k) => {
      const px = x.getPixelForValue(snowFrom + k);
      ctx.save();
      ctx.translate(px - 0.5, 582);
      ctx.rotate(-Math.PI / 2);
      ctx.fillText(`${p}%`, 0, 0);
      ctx.restore();
    });

    ctx.fillStyle = "#000";
    ctx.font = `10px ${FONT}`;
    ctx.fillText("Températures 2m", 60, 175);
    ctx.fillText("Précipitations", 59, 537);
    ctx.restore();
  },
  afterDraw(chart: any) {
    const { ctx } = chart;
    ctx.save();
    ctx.textBaseline = "middle";
    ctx.textAlign = "left";
    ctx.fillStyle = "#000";
    ctx.font = `10px ${FONT}`;
    ctx.fillText("(°C)", 20, 607);
    ctx.fillText("(mm)", 709, 607);

    ctx.fillStyle = "#ff0000";
    ctx.fillRect(35, 645, 30, 5);
    ctx.fillStyle = "#0000ff";
    ctx.fillRect(225, 635, 30, 5);
    ctx.fillStyle = "#000";
    ctx.fillRect(225, 645, 30, 5);
    ctx.fillText("Moyenne des scénarios", 74, 647);
    ctx.fillText("Run de contrôle", 264, 637);
    ctx.fillText("Run GFS", 264, 647);
    ctx.fillText("30 Perts.", 339, 652);
    ctx.fillText("Altitude du modele : 361m", 180, 660);

    ctx.strokeStyle = "#000";
    ctx.lineWidth = 1;
    ctx.strokeRect(20.5, 667.5, 420, 31);
    ctx.font = `bold 11.6px ${FONT}`;
    ctx.fillText("Diagramme des ensembles GEFS sur 384h pour Veliko Turnovo", 29, 677);
    ctx.font = `10px ${FONT}`;
    ctx.fillText("Température 2m (°C) , précipitations (mm)", 29, 692);
    ctx.fillText("Ensemble GEFS du 04/02/2021 - 18Z", 449, 672);
    ctx.font = `bold 11.6px ${FONT}`;
    ctx.fillText("Copyright 2021 Meteociel.fr", 449, 692);

    ctx.font = `bold 8.5px ${FONT}`;
    ctx.textAlign = "center";
    memberColors.forEach((c, k) => {
      const left = 400 + k * 11;
      ctx.fillStyle = "#000";
      ctx.fillText(String(k + 1).padStart(2, "0"), left + 5, 642);
      ctx.fillStyle = c;
      ctx.fillRect(left, 649, 10, 7);
    });
    ctx.restore();
  },
};

const thin = (color: string, data: (number | null)[], axis: string) => ({
  data,
  yAxisID: axis,
  borderColor: color,
  backgroundColor: color,
  borderWidth: 1,
  pointStyle: "cross" as const,
  pointRadius: 2,
  pointBorderWidth: 1,
  pointBorderColor: color,
  tension: 0,
  order: 3,
});

export default function App() {
  const canvasRef = useRef<HTMLCanvasElement>(null);

  useEffect(() => {
    if (!canvasRef.current) return;
    Chart.defaults.font.family = FONT;
    Chart.defaults.color = "#000";

    const datasets: any[] = [
      { data: tempMean, yAxisID: "y", borderColor: "#ff0000", borderWidth: 4, pointRadius: 0, order: 0 },
      { data: rainMean, yAxisID: "yR", borderColor: "#ff0000", borderWidth: 4, pointRadius: 0, order: 0 },
      { data: tempControl, yAxisID: "y", borderColor: "#0000ff", borderWidth: 3, pointRadius: 0, order: 1 },
      { data: rainControl, yAxisID: "yR", borderColor: "#0000ff", borderWidth: 3, pointRadius: 0, order: 1 },
      { data: tempGfs, yAxisID: "y", borderColor: "#000000", borderWidth: 3, pointRadius: 0, order: 2 },
      { data: rainGfs, yAxisID: "yR", borderColor: "#000000", borderWidth: 3, pointRadius: 0, order: 2 },
    ];
    memberColors.forEach((c, k) => {
      datasets.push(thin(c, memberTemps[k], "y"));
      datasets.push(thin(c, memberRain[k], "yR"));
    });

    const chart = new Chart(canvasRef.current, {
      type: "line",
      data: { labels: leadHours, datasets },
      options: {
        responsive: false,
        animation: false,
        layout: { padding: 0, autoPadding: false },
        elements: { line: { tension: 0 } },
        plugins: { legend: { display: false }, tooltip: { enabled: false }, title: { display: false } },
        scales: {
          x: {
            type: "category",
            offset: false,
            afterFit: (s: any) => {
              s.height = 100;
              noPadding(s);
            },
            grid: {
              drawTicks: false,
              color: (c: any) => (isMidnight(c.index) ? "#c0c0c0" : "rgba(0,0,0,0)"),
            },
            border: { color: "#000", width: 1 },
            ticks: {
              autoSkip: false,
              maxRotation: 90,
              minRotation: 90,
              padding: 3,
              labelOffset: 6,
              font: { size: 10, family: FONT },
              color: "#000",
              callback: (_v: any, i: number) => (isMidnight(i) ? dayOf(i) : ""),
            },
          },
          y: {
            type: "linear",
            position: "left",
            min: -42.5,
            max: 42.85,
            afterFit: (s: any) => {
              s.width = 50;
              noPadding(s);
            },
            afterBuildTicks: (s: any) => {
              s.ticks = tempTicks.map((v) => ({ value: v }));
            },
            grid: { color: "#c0c0c0", drawTicks: false },
            border: { color: "#000", width: 1 },
            ticks: { padding: 17, font: { size: 10, family: FONT }, color: "#000" },
          },
          yR: {
            type: "linear",
            position: "right",
            min: -7.5,
            max: 77.85,
            afterFit: (s: any) => {
              s.width = 50;
              noPadding(s);
            },
            afterBuildTicks: (s: any) => {
              s.ticks = rainTicks.map((v) => ({ value: v }));
            },
            grid: { display: false, drawTicks: false },
            border: { color: "#000", width: 1 },
            ticks: { padding: 18, font: { size: 10, family: FONT }, color: "#000" },
          },
        },
      },
      plugins: [extras],
    });

    return () => chart.destroy();
  }, []);

  return (
    <div style={{ position: "absolute", left: 0, top: 0, width: 740, height: 700, background: "#fff" }}>
      <canvas ref={canvasRef} width={740} height={700} />
    </div>
  );
}
